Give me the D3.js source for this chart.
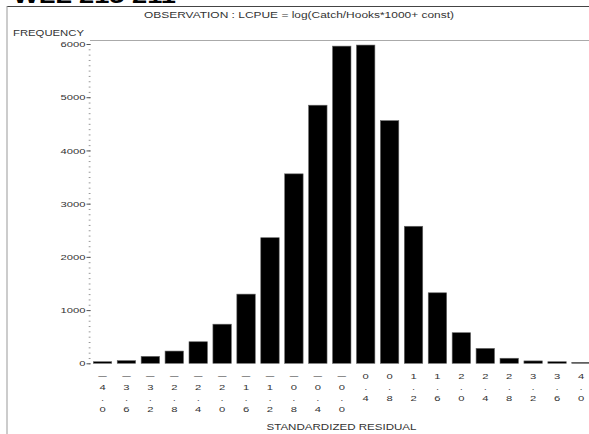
<!DOCTYPE html>
<html>
<head>
<meta charset="utf-8">
<script src="https://cdn.jsdelivr.net/npm/d3@7"></script>
<style>
  body { margin: 0; background: #fff; }
  svg { display: block; font-family: "Liberation Sans", Arial, Helvetica, sans-serif; }
</style>
</head>
<body>
<svg id="chart" width="589" height="434"></svg>
<script>
// residual bins and counts
var categories = ['-4.0', '-3.6', '-3.2', '-2.8', '-2.4', '-2.0', '-1.6', '-1.2', '-0.8', '-0.4', '-0.0',
                  '0.4', '0.8', '1.2', '1.6', '2.0', '2.4', '2.8', '3.2', '3.6', '4.0'];
var frequency = [30, 50, 130, 230, 405, 735, 1300, 2360, 3560, 4850, 5960,
                 5980, 4560, 2575, 1325, 575, 280, 95, 45, 30, 18];
var yTicks = [0, 1000, 2000, 3000, 4000, 5000, 6000];

var svg = d3.select('#chart');
var STRETCH = 1.4; // the scanned figure is wider than it is tall

var x = d3.scaleBand()
    .domain(categories)
    .range([93.3, 590.2])
    .paddingInner(0.23)
    .paddingOuter(0);

var y = d3.scaleLinear()
    .domain([0, 6000])
    .range([363.3, 44]);

// cropped heading from the page above, only its bottom edge shows
svg.append('text')
    .attr('x', 13).attr('y', 3)
    .attr('textLength', 163).attr('lengthAdjust', 'spacingAndGlyphs')
    .style('font-size', '22px').style('font-weight', 'bold').style('fill', '#000')
    .text('WLL 215 211');

// outer frame (top and left only)
svg.append('line')
    .attr('x1', 7).attr('x2', 589).attr('y1', 6.5).attr('y2', 6.5)
    .attr('stroke', '#444').attr('stroke-width', 1.2);
svg.append('line')
    .attr('x1', 7).attr('x2', 7).attr('y1', 6).attr('y2', 434)
    .attr('stroke', '#999').attr('stroke-width', 1);

svg.append('text')
    .attr('x', 144).attr('y', 18)
    .attr('textLength', 310).attr('lengthAdjust', 'spacingAndGlyphs')
    .style('font-size', '8.5px').style('fill', '#333')
    .text('OBSERVATION  :  LCPUE = log(Catch/Hooks*1000+ const)');

svg.append('text')
    .attr('x', 13).attr('y', 36)
    .attr('textLength', 71).attr('lengthAdjust', 'spacingAndGlyphs')
    .style('font-size', '8.5px').style('fill', '#333')
    .text('FREQUENCY');

// plot top border
svg.append('line')
    .attr('x1', 90).attr('x2', 589).attr('y1', 40.5).attr('y2', 40.5)
    .attr('stroke', '#aaa').attr('stroke-width', 1);

// minor ticks, dotted look
var minor = svg.append('g')
    .attr('transform', 'translate(90.5,0)')
    .call(d3.axisLeft(y).tickValues(d3.range(0, 6001, 100)).tickSize(1.8).tickFormat(''));
minor.select('.domain').remove();
minor.selectAll('line').attr('stroke', '#999');

var yAxis = svg.append('g')
    .attr('transform', 'translate(90.5,0)')
    .call(d3.axisLeft(y).tickValues(yTicks).tickSize(4).tickFormat(d3.format('d')));
yAxis.select('.domain').remove();
yAxis.selectAll('line').attr('stroke', '#555');
yAxis.selectAll('text')
    .attr('x', null)
    .attr('transform', 'translate(-5,0) scale(' + STRETCH + ',1)')
    .style('font-size', '8px')
    .style('font-family', '"Liberation Sans", Arial, sans-serif')
    .style('fill', '#333');

svg.append('g').selectAll('rect')
    .data(frequency)
    .join('rect')
    .attr('x', function(d, i) { return x(categories[i]); })
    .attr('width', x.bandwidth())
    .attr('y', function(d) { return y(d); })
    .attr('height', function(d) { return y(0) - y(d); })
    .attr('fill', '#000')
    .attr('stroke', '#666')
    .attr('stroke-width', 0.6);

// tick labels written one character per line, SAS style
var labels = svg.append('g').selectAll('g')
    .data(categories)
    .join('g')
    .attr('transform', function(d) { return 'translate(' + (x(d) + x.bandwidth() / 2) + ',0)'; });

labels.selectAll('text')
    .data(function(d) { return d.replace('-', '\u2014').split(''); })
    .join('text')
    .attr('transform', function(c, k) { return 'translate(0,' + (376 + k * 11) + ') scale(' + (c === '\u2014' ? 1 : STRETCH) + ',1)'; })
    .attr('dy', '0.36em')
    .attr('text-anchor', 'middle')
    .style('font-size', function(c) { return c === '\u2014' ? '8.5px' : '8px'; })
    .style('fill', '#333')
    .text(function(c) { return c; });

svg.append('text')
    .attr('x', 266.5).attr('y', 430)
    .attr('textLength', 150).attr('lengthAdjust', 'spacingAndGlyphs')
    .style('font-size', '9px').style('fill', '#333')
    .text('STANDARDIZED RESIDUAL');
</script>
</body>
</html>
